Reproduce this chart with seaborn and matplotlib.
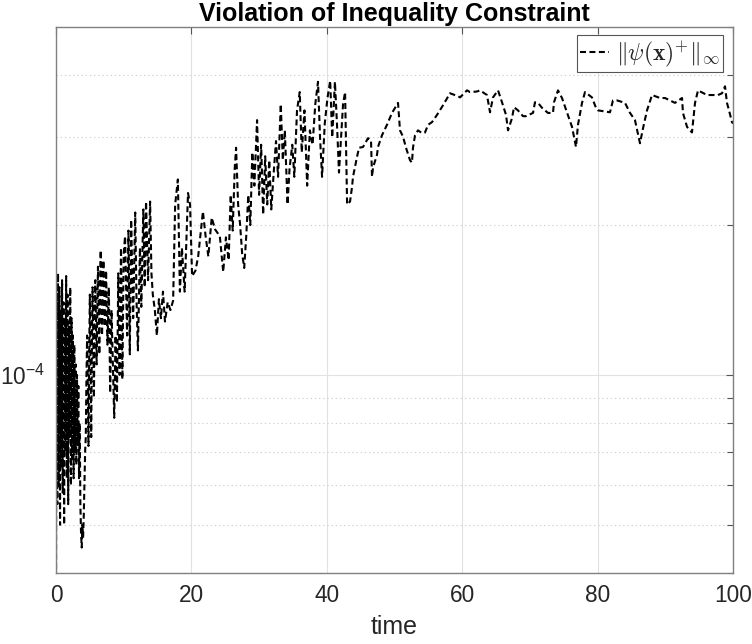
import numpy as np
import pandas as pd
import matplotlib
matplotlib.use("Agg")
import matplotlib.pyplot as plt
import seaborn as sns
from matplotlib.ticker import FixedLocator, LogLocator, NullFormatter

# ---------------- data ----------------
time = [
    0.00, 0.05, 0.10, 0.15, 0.20, 0.25, 0.30, 0.35, 0.40, 0.45, 0.50, 0.55,
    0.60, 0.65, 0.70, 0.75, 0.80, 0.85, 0.90, 0.95, 1.00, 1.05, 1.10, 1.15,
    1.20, 1.25, 1.30, 1.35, 1.40, 1.45, 1.50, 1.55, 1.60, 1.65, 1.70, 1.75,
    1.80, 1.85, 1.90, 1.95, 2.00, 2.05, 2.10, 2.15, 2.20, 2.25, 2.30, 2.35,
    2.40, 2.45, 2.50, 2.55, 2.60, 2.65, 2.70, 2.75, 2.80, 2.85, 2.90, 2.95,
    3.00, 3.05, 3.10, 3.15, 3.20, 3.25, 3.30, 3.35, 3.40, 3.45, 3.50, 3.55,
    3.60, 3.70, 3.80, 3.90, 4.00,
    4.1, 4.2, 4.3, 4.4, 4.5, 4.6, 4.7, 4.8, 4.9, 5.0, 5.1, 5.2, 5.3, 5.4, 5.5,
    5.6, 5.7, 5.8, 5.9, 6.0, 6.1, 6.2, 6.3, 6.4, 6.5, 6.6, 6.7, 6.8, 6.9, 7.0,
    7.1, 7.2, 7.3, 7.4, 7.5, 7.6, 7.7, 7.8, 7.9, 8.0, 8.1, 8.2, 8.3, 8.4, 8.5,
    8.6, 8.7, 8.8, 8.9, 9.0, 9.1, 9.2, 9.3, 9.4, 9.5, 9.6, 9.7, 9.8, 9.9, 10.0,
    10.2, 10.5, 10.7, 10.9, 11.1, 11.4, 11.7, 11.9, 12.1, 12.4, 12.6, 12.9,
    13.1, 13.3, 13.6, 13.9, 14.1, 14.3, 14.6, 14.9, 15.2, 15.5, 15.8, 16.1,
    16.5, 16.9, 17.3, 17.6, 18.0, 18.3, 18.6, 19.0, 19.5, 19.8, 20.1, 20.6,
    21.0, 21.4, 21.7, 22.1, 22.5, 23.0, 23.5, 24.2, 24.7, 25.1,
    25.5, 25.8, 26.1, 26.4, 26.6, 26.9, 27.2, 27.5, 27.8, 28.1, 28.4, 28.7,
    29.0, 29.3, 29.7, 30.0, 30.3, 30.6, 30.9, 31.2, 31.5, 31.8, 32.2, 32.5,
    32.8, 33.2, 33.5, 33.8, 34.2, 34.5, 34.9, 35.2, 35.6, 36.0, 36.3, 36.7,
    37.1, 37.5, 37.9, 38.3, 38.7, 39.0, 39.3, 39.7, 40.1, 40.5, 40.8, 41.2,
    41.5, 41.8, 42.1, 42.4, 42.7, 43.0,
    43.43, 43.72, 43.87, 44.46, 44.76, 45.35, 46.09, 46.53, 46.68, 46.83,
    47.42, 47.56, 48.15, 48.89, 49.63, 50.52, 50.66, 50.81, 51.26, 51.70,
    52.29, 52.58, 52.73, 53.03, 53.47, 54.06, 54.51, 54.95, 55.54, 56.28,
    57.16, 58.20, 59.38, 59.68, 60.71, 61.15, 62.19, 62.63, 63.66, 64.11,
    64.55, 65.29, 65.88, 66.47, 66.77, 67.36, 67.65, 68.24, 68.98, 69.42,
    70.46, 70.75, 71.20, 71.79, 72.67, 73.41, 73.56, 74.15, 74.74, 75.48,
    76.22, 76.81, 77.10, 77.70, 78.14, 79.17, 79.76, 80.06, 81.83, 82.27,
    82.87, 84.05, 84.79, 85.52, 86.26, 86.71, 87.30, 88.04, 89.22, 89.96,
    91.43, 92.47, 92.61, 93.21, 93.94, 94.39, 94.83, 96.16, 97.78, 98.38,
    98.82, 99.11, 99.41, 99.85, 100.0,
]

# constraint violation, in units of 1e-4
violation_e4 = [
    0.30, 1.20, 1.45, 0.62, 0.55, 1.35, 1.60, 0.85, 0.60, 1.10, 1.50, 0.70,
    0.50, 1.00, 1.35, 0.90, 0.65, 1.25, 1.55, 0.75, 0.58, 1.05, 1.40, 0.80,
    0.50, 0.95, 1.30, 1.00, 0.70, 1.20, 1.58, 0.90, 0.62, 1.10, 1.45, 0.85,
    0.55, 0.90, 1.25, 1.05, 0.75, 1.15, 1.50, 0.95, 0.60, 0.95, 1.30, 0.90,
    0.68, 0.98, 1.20, 0.85, 0.62, 0.90, 1.15, 0.88, 0.70, 0.92, 1.05, 0.80,
    0.66, 0.85, 1.00, 0.82, 0.72, 0.85, 0.95, 0.75, 0.62, 0.70, 0.80, 0.65,
    0.55, 0.48, 0.45, 0.50, 0.47,
    0.52, 0.60, 0.70, 0.75, 1.00, 1.20, 0.95, 0.72, 1.10, 1.45, 1.05, 0.75,
    1.15, 1.50, 1.20, 0.90, 1.25, 1.55, 1.30, 1.05, 1.35, 1.65, 1.35, 1.10,
    1.45, 1.78, 1.45, 1.20, 1.45, 1.70, 1.45, 1.25, 1.42, 1.62, 1.35, 1.15,
    1.30, 1.50, 1.20, 0.92, 1.10, 1.35, 1.20, 1.05, 0.92, 0.82, 1.00, 1.20,
    1.05, 0.88, 1.20, 1.60, 1.25, 1.00, 1.35, 1.80, 1.30, 0.98, 1.30, 1.75,
    1.90, 1.20, 1.95, 1.10, 2.05, 1.30, 2.12, 1.40, 1.12, 1.80, 1.37, 2.15,
    1.50, 2.23, 1.55, 2.23, 1.60, 1.45, 1.35, 1.20, 1.42, 1.30, 1.47, 1.28,
    1.40, 1.35, 1.41, 2.20, 2.47, 1.47, 1.80, 1.47, 2.32, 2.20, 1.58, 1.62,
    1.73, 1.95, 2.13, 1.90, 1.73, 2.07, 1.96, 1.90, 1.61, 1.89,
    1.70, 2.30, 1.95, 2.60, 2.86, 2.20, 2.00, 1.75, 1.64, 1.90, 2.30, 2.00,
    2.80, 2.40, 3.25, 2.30, 2.90, 2.10, 2.75, 2.20, 2.70, 2.15, 2.60, 2.95,
    2.50, 3.50, 2.70, 3.10, 2.20, 2.60, 2.90, 2.50, 3.40, 3.70, 2.80, 3.40,
    2.40, 3.10, 2.90, 3.50, 3.88, 3.00, 2.50, 3.20, 3.60, 3.90, 3.00, 3.88,
    3.20, 2.55, 3.00, 3.50, 3.70, 2.20,
    2.23, 2.38, 2.50, 2.74, 2.86, 2.87, 2.99, 2.96, 2.50, 2.61,
    2.77, 2.87, 3.03, 3.18, 3.36, 3.52, 3.30, 3.10, 3.01, 2.86,
    2.70, 2.67, 2.86, 3.03, 3.10, 3.06, 3.07, 3.18, 3.22, 3.33,
    3.48, 3.68, 3.63, 3.61, 3.73, 3.70, 3.71, 3.73, 3.65, 3.37,
    3.61, 3.73, 3.53, 3.33, 3.10, 3.28, 3.45, 3.40, 3.31, 3.31,
    3.36, 3.53, 3.52, 3.44, 3.36, 3.36, 3.53, 3.73, 3.60, 3.37,
    3.15, 2.87, 3.18, 3.52, 3.70, 3.61, 3.44, 3.40, 3.37, 3.56,
    3.56, 3.52, 3.36, 3.25, 2.92, 3.13, 3.40, 3.65, 3.60, 3.60,
    3.52, 3.60, 3.36, 3.15, 3.07, 3.52, 3.73, 3.65, 3.65, 3.68,
    3.80, 3.52, 3.40, 3.22, 3.20,
]

title_text = "Violation of Inequality Constraint"
x_label = "time"
legend_label = r"$\Vert\psi(\mathbf{x})^{+}\Vert_{\infty}$"
x_ticks = [0, 20, 40, 60, 80, 100]

# ---------------- style ----------------
sns.set_theme(style="white")
plt.rcParams["font.family"] = ["Liberation Sans", "DejaVu Sans"]
plt.rcParams["mathtext.fontset"] = "cm"
plt.rcParams["lines.scale_dashes"] = False

df = pd.DataFrame({"time": time, "violation": np.array(violation_e4) * 1e-4})

W, H = 752, 644
fig = plt.figure(figsize=(W / 100, H / 100), dpi=100)
fig.patch.set_facecolor("white")
ax = fig.add_axes([56 / W, 1 - 573 / H, (733 - 56) / W, (573 - 27) / H])

sns.lineplot(data=df, x="time", y="violation", ax=ax, color="black",
             linewidth=1.5, estimator=None, sort=False, label=legend_label)
line = ax.lines[0]
line.set_dashes((4.3, 2.5))

ax.set_yscale("log")
ax.set_xlim(0, 100)
ax.set_ylim(4e-5, 5e-4)
ax.set_xticks(x_ticks)
ax.yaxis.set_major_locator(FixedLocator([1e-4]))
ax.yaxis.set_minor_locator(LogLocator(base=10, subs=np.arange(2, 10)))
ax.yaxis.set_minor_formatter(NullFormatter())

ax.grid(True, which="major", axis="x", color="#e2e2e2", linewidth=0.8, linestyle="-")
ax.grid(True, which="major", axis="y", color="#e2e2e2", linewidth=0.8, linestyle="-")
ax.grid(True, which="minor", axis="y", color="#d2d2d2", linewidth=0.8, linestyle=(0, (1, 2)))
ax.set_axisbelow(True)

ax.tick_params(which="both", direction="in", top=True, right=True,
               color="#555555", labelcolor="#262626", width=0.8)
ax.tick_params(which="major", length=5, labelsize=16.3, pad=8)
ax.tick_params(which="minor", length=4)
for s in ax.spines.values():
    s.set_color("#808080")
    s.set_linewidth(1.0)

ax.set_title(title_text, fontsize=18, fontweight="bold", pad=4.5, color="black")
ax.set_xlabel(x_label, fontsize=18, labelpad=6, color="#262626")
ax.set_ylabel("")

leg = ax.legend(loc="upper right", bbox_to_anchor=(0.985, 0.9853),
                borderaxespad=0, fontsize=17, handlelength=1.2,
                handletextpad=0.3, borderpad=0.15, fancybox=False,
                framealpha=1, edgecolor="#555555")
leg.get_frame().set_linewidth(0.8)

fig.savefig("out.png", dpi=100)
